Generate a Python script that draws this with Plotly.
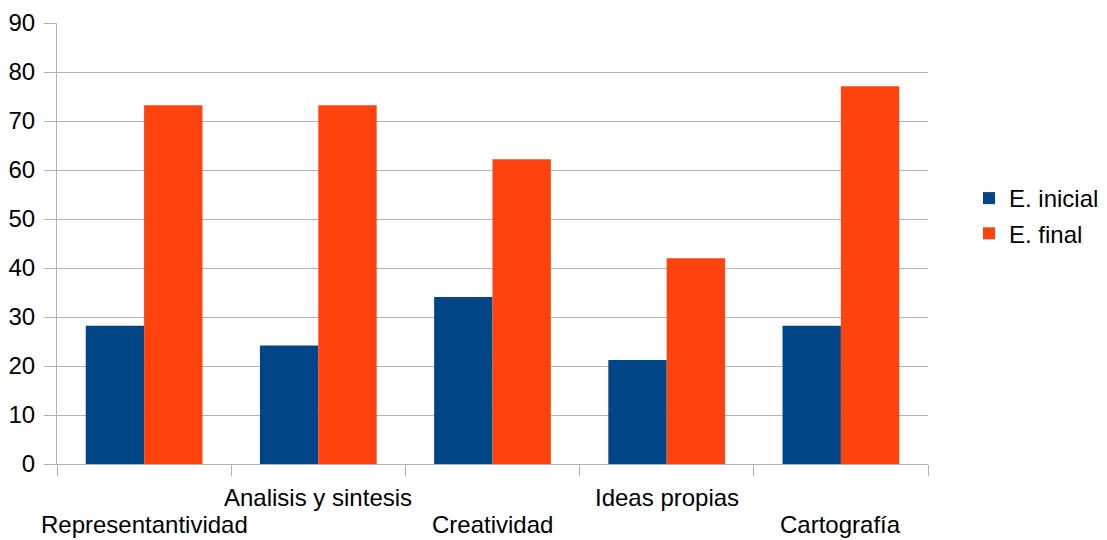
import plotly.graph_objects as go

categories = ["Representantividad", "Analisis y sintesis", "Creatividad", "Ideas propias", "Cartografía"]
inicial = [28.2, 24.2, 34.1, 21.2, 28.2]
final = [73.2, 73.2, 62.2, 42.0, 77.1]
y_ticks = [0, 10, 20, 30, 40, 50, 60, 70, 80, 90]

FONT = "Liberation Sans, Arial, sans-serif"
FS = 24
GRID = "#b3b3b3"

fig = go.Figure()
fig.add_trace(go.Bar(name="E. inicial", x=categories, y=inicial,
                     marker=dict(color="#004586", line=dict(width=0)),
                     legendgroup="a"))
fig.add_trace(go.Bar(name="E. final", x=categories, y=final,
                     marker=dict(color="#ff420e", line=dict(width=0)),
                     legendgroup="b"))

# staggered category labels below the axis
for i, c in enumerate(categories):
    fig.add_annotation(x=c, xref="x", y=0, yref="paper",
                       text=c, showarrow=False,
                       yanchor="middle", xanchor="center",
                       yshift=-33 if i % 2 else -60,
                       font=dict(family=FONT, size=FS, color="black"))

fig.update_layout(
    width=1107, height=540,
    margin=dict(l=57, r=179, t=23, b=76, autoexpand=False),
    paper_bgcolor="white", plot_bgcolor="white",
    barmode="group", bargap=0.33, bargroupgap=0,
    font=dict(family=FONT, size=FS, color="black"),
    showlegend=True,
    legend=dict(xref="container", yref="container",
                x=969 / 1107, xanchor="left",
                y=1 - 216 / 540, yanchor="middle",
                tracegroupgap=1, font=dict(size=FS, family=FONT),
                itemwidth=30, bgcolor="rgba(0,0,0,0)"),
    xaxis=dict(type="category", range=[-0.5, len(categories) - 0.5],
               showticklabels=False,
               ticks="outside", tickson="boundaries", ticklen=11,
               tickcolor=GRID, tickwidth=1,
               showline=True, linecolor=GRID, linewidth=1,
               showgrid=False, zeroline=False),
    yaxis=dict(range=[0, 90], tickvals=y_ticks, ticks="outside",
               ticklen=12, tickcolor=GRID, tickwidth=1,
               showline=True, linecolor=GRID, linewidth=1,
               showgrid=True, gridcolor=GRID, gridwidth=1,
               zeroline=False, tickfont=dict(size=FS, family=FONT),
               ticklabelstandoff=4),
)

fig.write_html("out.html")
